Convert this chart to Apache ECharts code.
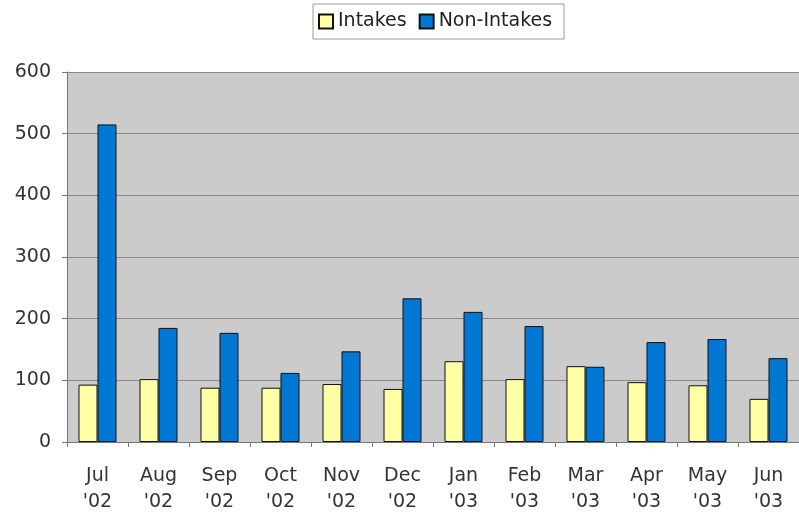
<!DOCTYPE html>
<html lang="en">
<head>
    <meta charset="UTF-8">
    <title>Intakes vs Non-Intakes</title>
    <script src="https://cdn.jsdelivr.net/npm/echarts@6/dist/echarts.min.js"></script>
    <style>
        html, body { margin: 0; padding: 0; background: #fff; }
        #main { width: 799px; height: 516px; }
    </style>
</head>
<body>
    <div id="main"></div>
    <script>
        var months = ["Jul\n'02", "Aug\n'02", "Sep\n'02", "Oct\n'02", "Nov\n'02", "Dec\n'02",
                      "Jan\n'03", "Feb\n'03", "Mar\n'03", "Apr\n'03", "May\n'03", "Jun\n'03"];
        var intakes = [93, 102, 88, 88, 94, 86, 131, 102, 123, 97, 92, 70];
        var nonIntakes = [515, 185, 177, 112, 147, 233, 211, 188, 122, 162, 167, 136];

        var myChart = echarts.init(document.getElementById('main'));

        var font = 'DejaVu Sans';

        var option = {
            animation: false,
            legend: {
                left: 313,
                top: 4,
                padding: [8, 12, 8, 5],
                borderColor: '#999',
                borderWidth: 1,
                itemWidth: 14,
                itemHeight: 14,
                itemGap: 12,
                icon: 'rect',
                textStyle: { fontFamily: font, fontSize: 19, color: '#222' },
                data: ['Intakes', 'Non-Intakes']
            },
            grid: {
                left: 67,
                right: -7,
                top: 72,
                bottom: 74,
                show: true,
                backgroundColor: '#cbcbcb',
                borderWidth: 0
            },
            xAxis: {
                type: 'category',
                data: months,
                axisLine: { lineStyle: { color: '#777', width: 1 } },
                axisTick: { show: true, length: 5, lineStyle: { color: '#777' } },
                axisLabel: {
                    fontFamily: font,
                    fontSize: 19,
                    lineHeight: 26,
                    color: '#333',
                    margin: 21,
                    interval: 0
                }
            },
            yAxis: {
                type: 'value',
                min: 0,
                max: 600,
                interval: 100,
                axisLine: { show: true, lineStyle: { color: '#777', width: 1 } },
                axisTick: { show: true, length: 5, lineStyle: { color: '#777' } },
                splitLine: { lineStyle: { color: '#888', width: 1 } },
                axisLabel: {
                    fontFamily: font,
                    fontSize: 19,
                    color: '#333',
                    margin: 16
                }
            },
            series: [{
                name: 'Intakes',
                type: 'bar',
                data: intakes,
                barWidth: 19,
                barGap: '0%',
                itemStyle: { color: '#ffffa6', borderColor: '#111', borderWidth: 1 }
            }, {
                name: 'Non-Intakes',
                type: 'bar',
                data: nonIntakes,
                barWidth: 19,
                barGap: '0%',
                itemStyle: { color: '#0077d2', borderColor: '#111', borderWidth: 1 }
            }]
        };

        myChart.setOption(option);
    </script>
</body>
</html>
